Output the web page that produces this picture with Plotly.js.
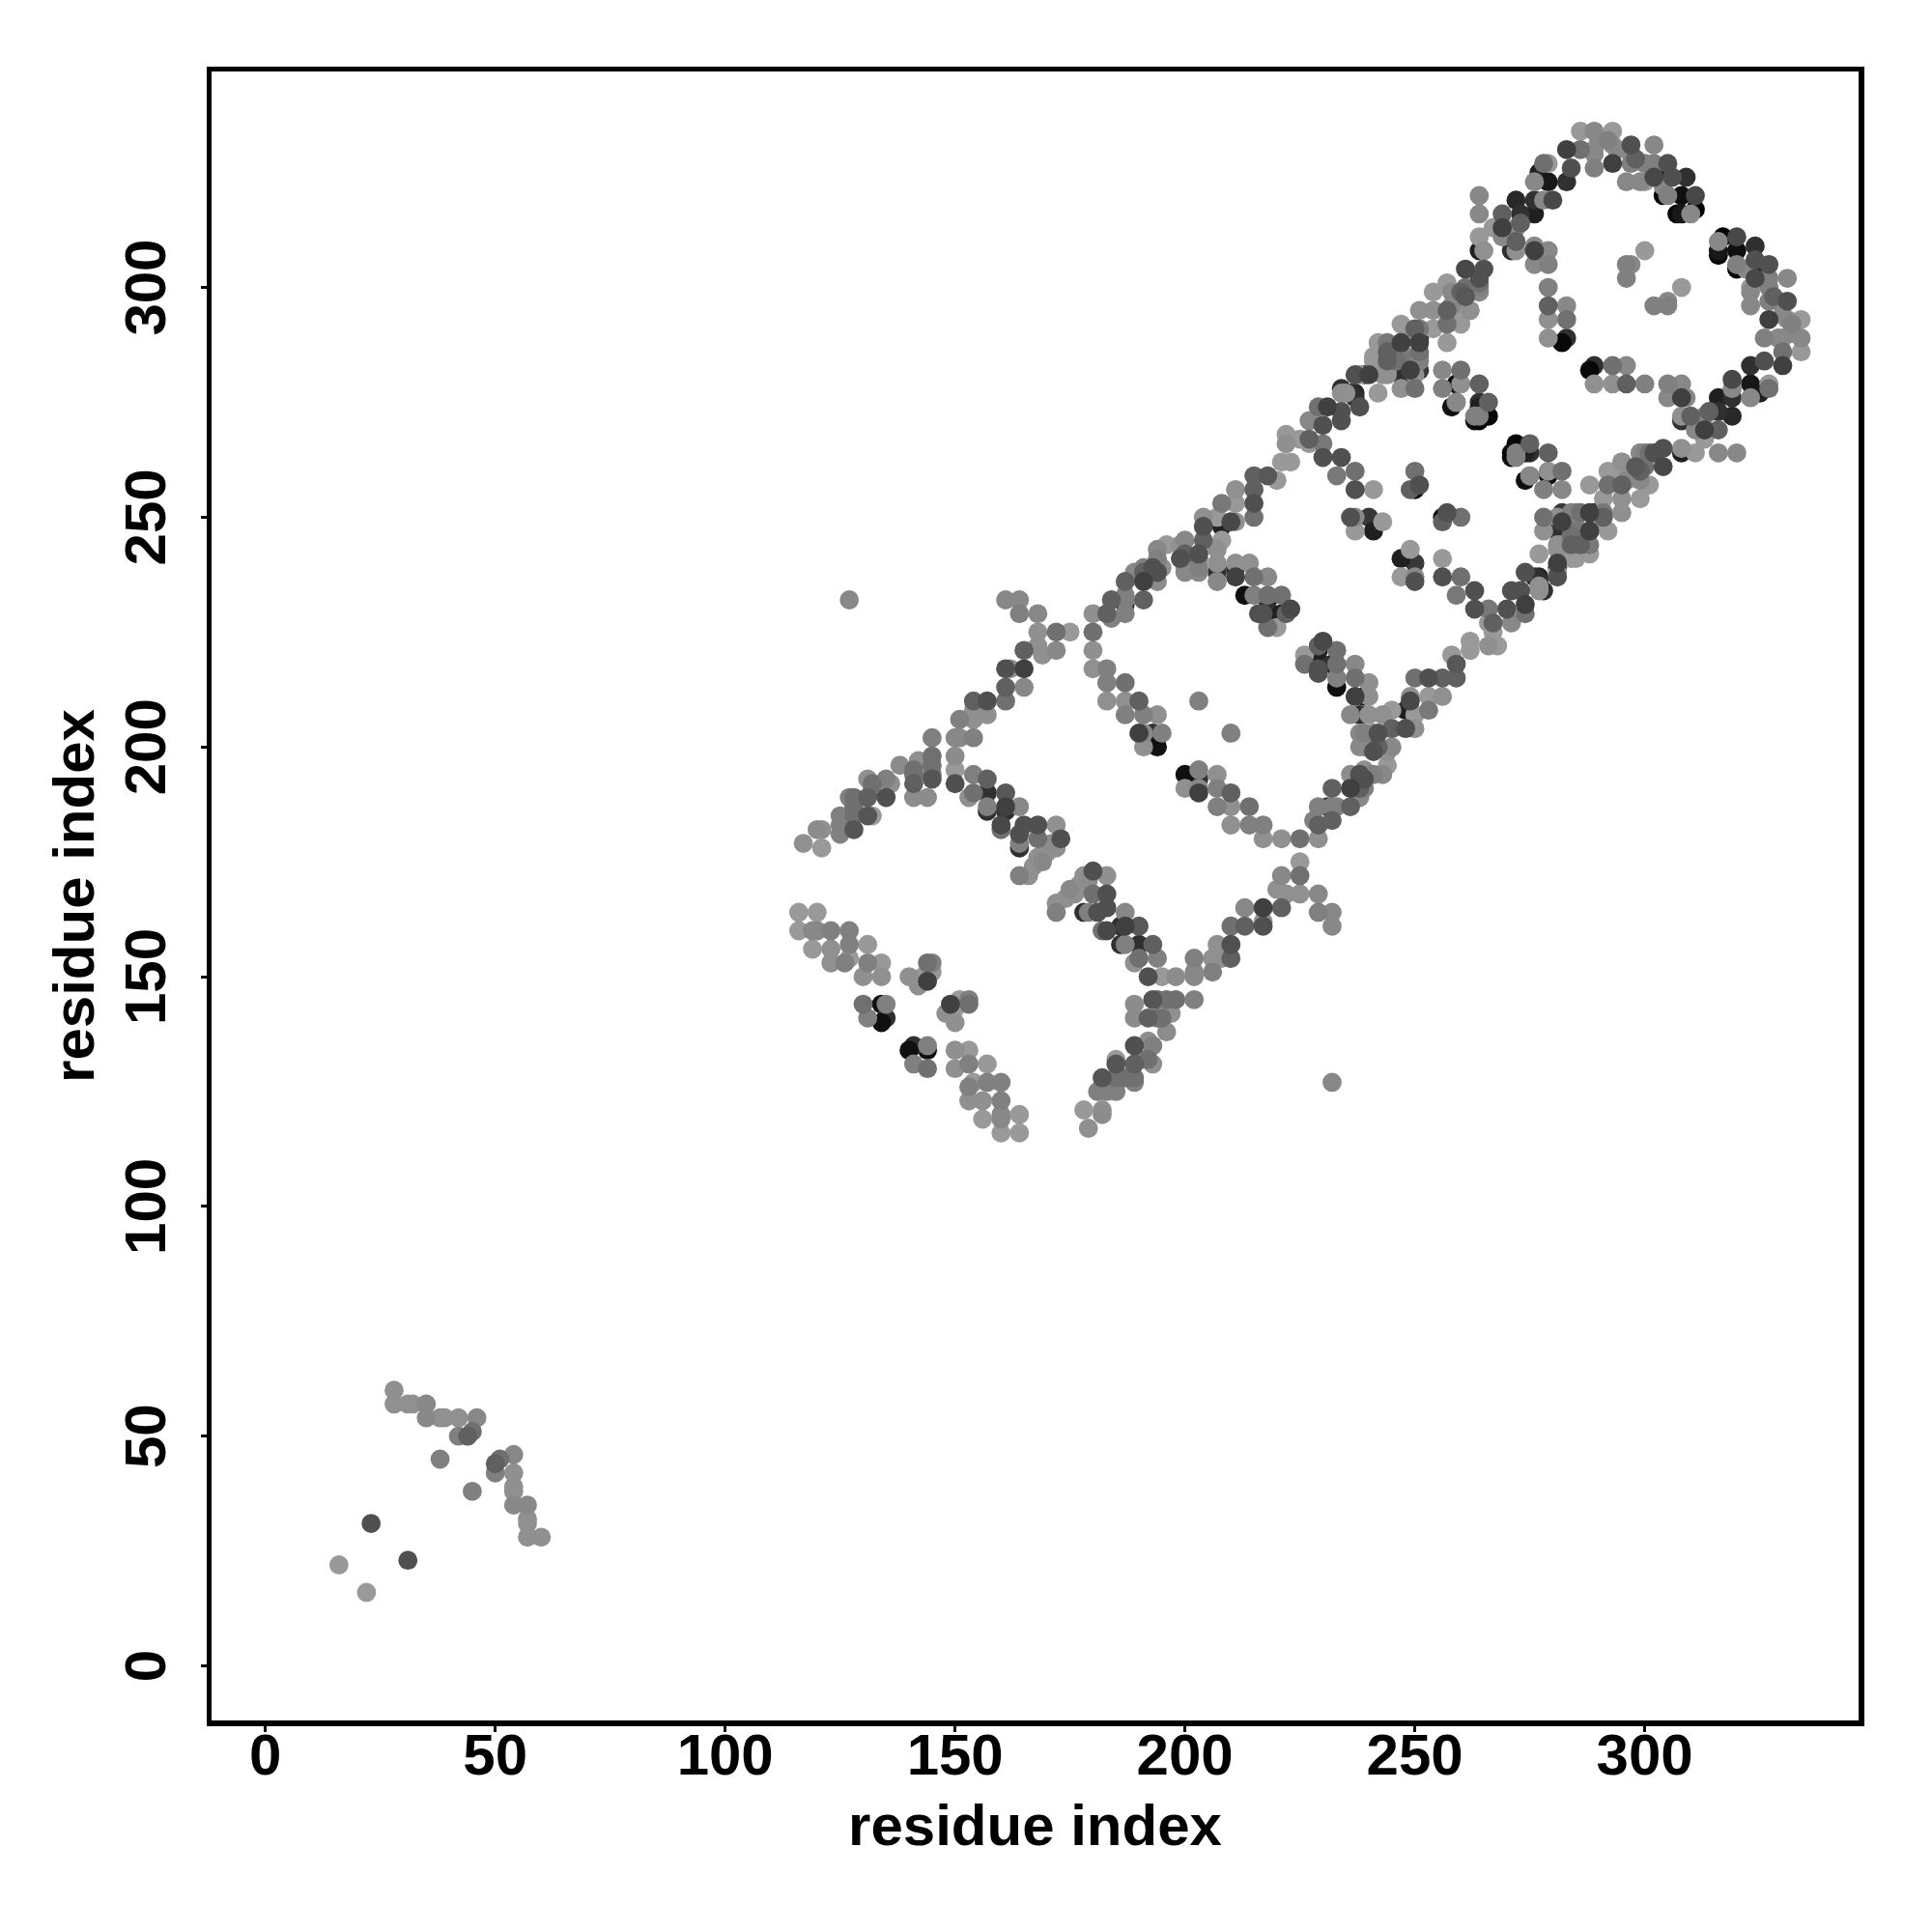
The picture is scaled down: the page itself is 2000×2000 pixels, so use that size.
<!DOCTYPE html>
<html>
<head>
<meta charset="utf-8">
<script src="https://cdn.plot.ly/plotly-3.0.1.min.js"></script>
<style>html,body{margin:0;padding:0;background:#fff}</style>
</head>
<body>
<div id="chart" style="width:2000px;height:2000px"></div>
<script>
// Each entry: [residue i, residue j, grey level]. The map is symmetric, so the half with j > i is listed.
const earlyContacts = [[16,22,0x99],[23,31,0x50],[28,60,0x90],[28,57,0x90],[31,57,0x90],[32,57,0x90],[35,57,0x88],[35,54,0x88],[38,54,0x90],[39,54,0x90],[42,54,0x90],[46,54,0x88],[42,50,0x80],[44,50,0x60],[45,51,0x70],[38,45,0x80]];
const farContacts = [[127,232,0x88]];
const lowerArm = [[116,164,0x99],[120,164,0x99],[116,160,0x99],[119,160,0x88],[120,160,0x88],[123,160,0x80],[127,160,0x80],[119,156,0x99],[123,156,0x90],[127,157,0x80],[131,157,0x99],[123,153,0x90],[126,153,0x80],[127,154,0x99],[131,153,0x80],[134,153,0x99],[130,150,0x90],[134,150,0x90],[144,153,0x70],[145,153,0x80],[145,151,0x99],[144,149,0x40],[143,150,0x99],[140,150,0x90],[142,148,0x90],[130,144,0x70],[134,144,0x10],[135,144,0x80],[131,141,0x80],[135,141,0x30],[134,140,0x10]];
const upperArmA = [[117,179,0x90],[121,178,0x99],[120,182,0x8c],[121,182,0x90],[125,185,0x80],[125,181,0x80],[128,182,0x55],[128,185,0x70],[131,185,0x55],[132,185,0x99],[127,189,0x80],[128,189,0x70],[131,189,0x60],[135,189,0x50],[131,193,0x90],[132,192,0x70],[135,193,0x80],[136,192,0x8f],[138,196,0x8c],[141,195,0x70],[142,197,0x90],[141,192,0x60],[141,189,0x8c],[144,189,0x8c],[145,193,0x55],[145,196,0x70],[145,198,0x70],[145,202,0x80]];
const upperArmB = [[150,198,0x8c],[150,195,0x99],[150,192,0x50],[150,202,0x88],[151,202,0x88],[154,202,0x80],[151,206,0x80],[154,206,0x90],[157,207,0x90],[154,208,0x90],[154,210,0x60],[157,210,0x50],[161,210,0x70],[161,213,0x60],[161,217,0x50],[162,217,0x90],[165,213,0x88],[165,217,0x40],[165,221,0x60],[168,222,0x90],[169,220,0x90],[172,221,0x88],[168,225,0x90],[172,225,0x70],[175,225,0x99],[161,232,0x88],[164,232,0x88],[164,229,0x80],[168,229,0x88]];
const crossArmA = [[153,189,0x90],[154,190,0x70],[154,194,0x80],[157,193,0x60],[157,190,0x30],[157,187,0x80],[157,186,0x30],[161,190,0x58],[161,187,0x40],[164,187,0x88],[160,183,0x48],[160,182,0x70],[165,183,0x50],[168,183,0x50],[164,181,0x50],[164,179,0x80],[164,178,0x30],[168,180,0x70],[172,183,0x90],[173,180,0x50],[171,179,0x8c],[172,178,0x90],[168,176,0x90],[167,174,0x90],[166,172,0x90],[164,172,0x80],[170,177,0x90],[169,175,0x88]];
const bandA = [[180,229,0x90],[180,225,0x70],[180,221,0x90],[180,217,0x90],[183,229,0x60],[184,228,0x80],[187,229,0x80],[184,232,0x60],[187,231,0x30],[187,232,0x80],[187,236,0x60],[191,232,0x60],[191,236,0x40],[191,239,0x80],[194,236,0x8c],[193,239,0x50],[195,239,0x90],[194,243,0x88],[194,240,0x88],[194,238,0x50],[196,244,0x99],[200,245,0x88],[200,242,0x60],[200,239,0x88],[203,239,0x80],[204,245,0x60],[203,242,0x50],[208,245,0x99],[207,243,0x90],[207,240,0x90],[207,236,0x88]];
const bandB = [[204,250,0x90],[204,248,0x50],[207,250,0x99],[208,248,0x20],[210,249,0x48],[211,249,0x90],[215,250,0x70],[215,253,0x50],[211,253,0x99],[208,253,0x78],[211,256,0x90],[215,256,0x60],[215,259,0x60],[218,259,0x58],[220,258,0x99],[221,262,0x99],[223,262,0x99],[222,266,0x90],[222,268,0x99],[225,267,0x99],[227,266,0x99],[227,271,0x88],[227,267,0x60],[230,266,0x78],[230,263,0x50],[230,270,0x50],[229,274,0x70],[231,274,0x40],[234,271,0x50],[234,273,0x50],[234,263,0x50],[233,259,0x78],[237,260,0x70],[237,256,0x50],[241,256,0x99]];
const bandC = [[234,278,0x30],[235,277,0x90],[237,277,0x28],[238,274,0x50],[237,281,0x50],[238,281,0x99],[240,281,0x40],[242,277,0x99],[241,284,0x99],[242,288,0x99],[244,288,0x78],[244,284,0x60],[244,281,0x90],[247,278,0x90],[247,281,0x30],[247,285,0x78],[247,288,0x70],[247,292,0x99],[250,278,0x70],[250,281,0x90],[251,282,0x38],[251,285,0x80],[251,288,0x40],[251,291,0x78],[251,295,0x90],[254,291,0x99],[254,295,0x90],[254,299,0x99],[257,292,0x70],[257,288,0x99],[257,295,0x60],[258,295,0x99],[257,301,0x99],[258,299,0x88],[260,292,0x99],[261,295,0x99],[261,300,0x70],[261,298,0x58],[261,304,0x48],[264,300,0x80],[264,299,0x90],[262,295,0x90],[265,304,0x50]];
const crossArmB = [[183,217,0x80],[183,214,0x80],[187,214,0x70],[183,210,0x90],[187,210,0x90],[190,210,0x60],[187,207,0x80],[191,207,0x80],[194,207,0x90],[190,203,0x40],[191,203,0x88],[195,203,0x80],[193,203,0x30],[191,200,0x90],[194,200,0x10],[203,210,0x80]];
const crossArmC = [[211,240,0x90],[211,239,0x20],[211,237,0x40],[214,240,0x90],[213,233,0x10],[215,233,0x80],[215,237,0x70],[218,237,0x88],[218,233,0x70],[218,232,0x10],[221,233,0x70],[218,230,0x30],[218,226,0x70],[220,226,0x99],[221,229,0x20],[223,230,0x48],[217,229,0x50],[237,250,0x88],[236,250,0x50],[237,247,0x99],[240,250,0x38],[241,247,0x20],[243,249,0x99],[250,260,0x70],[251,257,0x50],[250,256,0x10],[249,256,0x60]];
const crossArmD = [[256,282,0x88],[256,278,0x80],[260,282,0x70],[260,279,0x90],[259,279,0x10],[264,279,0x60],[259,275,0x90],[258,274,0x10],[264,275,0x30],[266,275,0x60],[263,271,0x10],[266,272,0x08],[264,272,0x80]];
const bendA = [[264,320,0x88],[264,316,0x88],[267,313,0x99],[264,311,0x99],[269,316,0x60],[269,313,0x40],[269,311,0x88],[265,308,0x90],[264,308,0x20],[272,319,0x28],[276,316,0x20],[273,316,0x30],[272,313,0x88],[272,310,0x60],[272,308,0x90],[271,308,0x30],[276,309,0x88],[276,308,0x40],[279,308,0x88],[276,305,0x88],[279,305,0x80]];
const bendB = [[279,300,0x80],[279,296,0x60],[283,296,0x88],[279,293,0x90],[283,293,0x70],[279,289,0x90],[283,289,0x30],[282,288,0x08],[277,325,0x20],[279,327,0x99],[278,327,0x70],[279,323,0x18],[283,323,0x30],[280,319,0x48],[278,319,0x88],[276,323,0x88],[276,319,0x30]];
const topArc = [[284,326,0x50],[283,330,0x40],[286,330,0x70],[286,334,0x99],[289,334,0x88],[293,334,0x99],[289,330,0x90],[289,326,0x80],[293,331,0x90],[293,327,0x40],[297,331,0x50],[297,327,0x80],[296,323,0x88],[302,331,0x88],[300,327,0x80],[302,327,0x80],[305,327,0x50],[300,323,0x99],[302,324,0x48],[305,324,0x20],[306,324,0x50],[309,324,0x30],[305,320,0x80],[304,320,0x08],[308,320,0x10],[311,320,0x48],[307,316,0x08],[308,316,0x18],[311,317,0x00],[310,316,0x88]];
const innerCore = [[300,308,0x99],[296,305,0x80],[297,305,0x88],[296,302,0x80]];
// Markers seen stacked a residue or so off their neighbours in the dense clusters.
const stackedA = [[125,183,0x80],[128,187,0x70],[132,191,0x80],[141,194,0x70],[145,194,0x70],[161,186,0x30],[187,233,0x80],[189,238,0x88],[191,238,0x60],[194,238,0x70],[194,241,0x80],[199,244,0x90],[199,241,0x50],[203,241,0x88],[200,238,0x88],[203,238,0x88],[207,238,0x30],[216,229,0x50],[218,228,0x30],[220,228,0x20],[222,229,0x60]];
const stackedB = [[234,277,0x90],[236,277,0x30],[237,276,0x30],[239,281,0x30],[241,285,0x99],[243,281,0x90],[244,282,0x99],[244,286,0x60],[246,284,0x70],[248,285,0x88],[247,288,0x40],[249,282,0x40],[249,290,0x99],[250,284,0x88],[250,291,0x60],[251,286,0x70],[251,289,0x30],[251,284,0x80],[258,296,0x88],[260,299,0x60],[262,295,0x99],[264,301,0x70],[264,302,0x50],[264,299,0x88],[259,275,0x88],[264,274,0x20],[263,272,0x80],[264,271,0x08]];
const stackedC = [[273,314,0x60],[269,313,0x88],[290,332,0x88],[292,332,0x80],[289,329,0x88],[297,329,0x88],[294,330,0x88],[298,328,0x60],[304,322,0x88],[299,323,0x88]];

const allContacts = [earlyContacts, farContacts, lowerArm, upperArmA, upperArmB, crossArmA, bandA, bandB, bandC, crossArmB, crossArmC, crossArmD, bendA, bendB, topArc, innerCore, stackedA, stackedB, stackedC].flat();

// Drawing order read from the overlaps: blackest below, then the light greys, then the mid greys.
function rank(g) { return g <= 0x38 ? 0 : (g >= 0x80 ? 1 + (0x99 - g) / 100 : 2 + (0x80 - g) / 100); }
const ordered = allContacts.flatMap(p => [[p[0], p[1], p[2]], [p[1], p[0], p[2]]])
  .map((p, n) => ({p, n})).sort((a, b) => rank(a.p[2]) - rank(b.p[2]) || a.n - b.n).map(o => o.p);

const xValues = ordered.map(p => p[0]);
const yValues = ordered.map(p => p[1]);
const shades = ordered.map(p => `rgb(${p[2]},${p[2]},${p[2]})`);

const tickVals = [0, 50, 100, 150, 200, 250, 300];
const axisFont = {family: '"Liberation Sans", Arial, sans-serif', size: 60, color: '#000', weight: 700};

function axis(range, extra) {
  return Object.assign({
    range, tickmode: 'array', tickvals: tickVals, ticktext: tickVals.map(String),
    showgrid: false, zeroline: false, showline: true, mirror: true,
    linecolor: '#000', linewidth: 5.5, ticks: 'outside', ticklen: 6, tickwidth: 3, tickcolor: '#000',
    tickfont: axisFont
  }, extra);
}

Plotly.newPlot('chart', [{
  type: 'scatter', mode: 'markers', x: xValues, y: yValues,
  marker: {size: 19.8, color: shades, line: {width: 0}}, hoverinfo: 'x+y', showlegend: false
}], {
  width: 2000, height: 2000,
  margin: {l: 218.7, r: 75.7, t: 73.7, b: 218.7, pad: 0},
  paper_bgcolor: '#fff', plot_bgcolor: '#fff', showlegend: false,
  xaxis: axis([-11.7, 346.5], {title: {text: '<b>residue index</b>', font: axisFont, standoff: 21}, tickangle: 0, ticklabelstandoff: -28}),
  yaxis: axis([-11.87, 347], {title: {text: '<b>residue index</b>', font: axisFont, standoff: 1}, tickangle: -90, ticklabelstandoff: 13, ticklabelshift: 9})
}, {displayModeBar: false, staticPlot: true});
</script>
</body>
</html>
